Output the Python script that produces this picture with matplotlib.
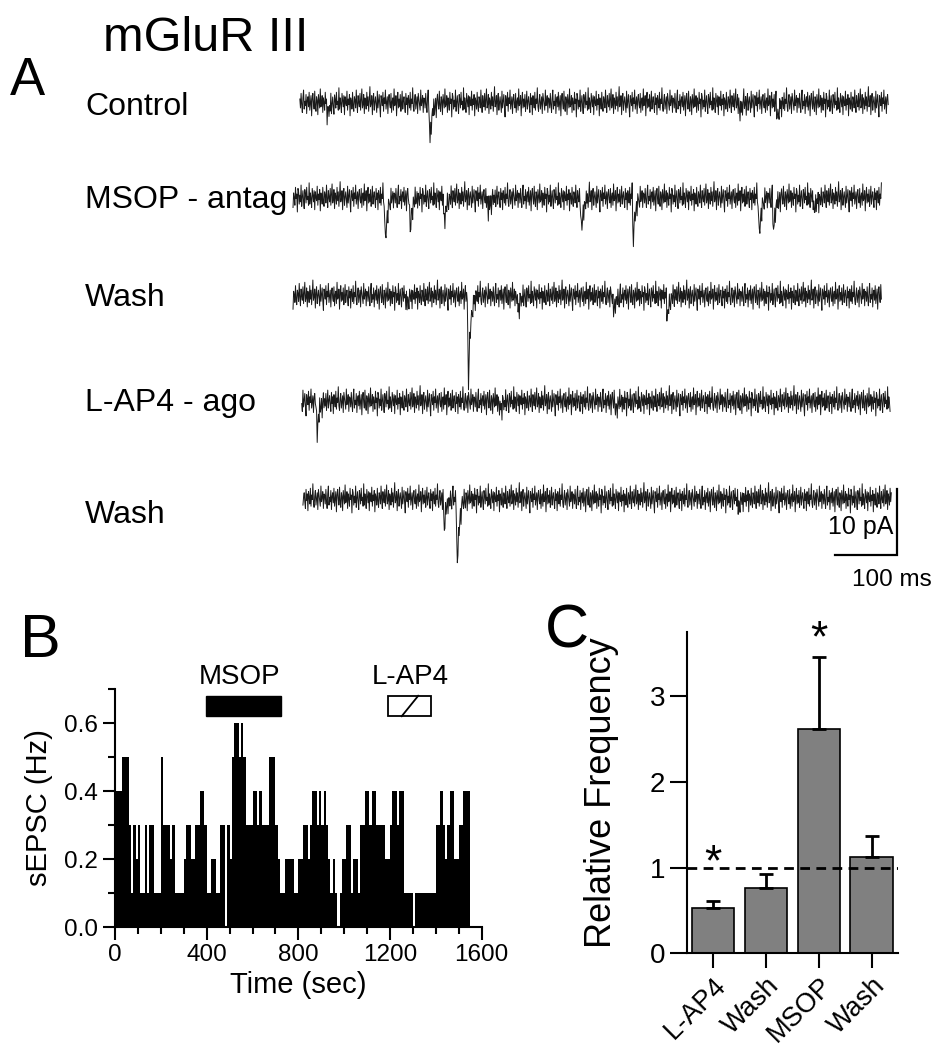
import numpy as np
import matplotlib.pyplot as plt
from matplotlib.patches import Rectangle
from matplotlib.ticker import MultipleLocator

plt.rcParams['font.family'] = ['Liberation Sans', 'DejaVu Sans']

# ---- Panel A: sEPSC traces ----
trace_names = ['Control', 'MSOP - antag', 'Wash', 'L-AP4 - ago', 'Wash']
# events: (time from trace start in ms, amplitude in pA)
control_events = [(43, 2.0), (208, 5.6), (708, 1.8), (768, 2.5)]
msop_events = [(147, 6.8), (187, 4.7), (242, 3.6), (313, 2.4), (463, 5.5),
               (547, 6.1), (750, 5.9), (773, 5.0), (839, 2.3)]
wash1_events = [(181, 1.5), (281, 12.9), (361, 2.3), (515, 2.7), (602, 3.0)]
lap4_events = [(23, 4.7), (318, 1.5), (505, 1.2)]
wash2_events = [(226, 4.5), (247, 10.6), (700, 1.4)]
trace_events = [control_events, msop_events, wash1_events, lap4_events, wash2_events]

# baseline noise samples (0.1 pA units)
noise = [3, -5, 8, -2, -9, 4, 11, -6, 1, -3, 7, -10, 2, 5, -4, 9, -7, 0, 6, -12,
         3, 8, -1, -6, 10, -3, -8, 5, 2, -11, 7, 1, -5, 12, -4, -2, 6, -9, 4, 0,
         -7, 9, -1, 3, -13, 8, 5, -6, 2, -4, 11, -8, 0, 6, -3, -10, 7, 3, -5, 9,
         -2, 1, -7, 13, -6, 4, -1, -9, 8, 2, -4, 6, -11, 5, 0, -3, 10, -7, 3, -2,
         7, -12, 4, 1, -6, 9, -3, -8, 5, 2, -5, 11, -1, -9, 6, 0, -4, 8, -7, 3,
         12, -5, -2, 7, -10, 4, 1, -6, 9, -3, 5, -8, 2, 14, -4, -1, 6, -11, 3, 8,
         -7, 0, 5, -2, -9, 10, -5, 1, 7, -4, -13, 6, 2, -3, 9, -8, 4, -1, 11, -6,
         0, 5, -10, 3, 7, -2, -5, 8, -9, 1, 4, -7, 12, -3, -1, 6, -12, 2, 9, -5,
         3, -4, 7, -8, 0, 10, -6, 1, 5, -3, -9, 8, -2, 4, -11, 6, 1, -5, 9, -7,
         3, -1, 13, -4, -8, 2, 7, -6, 0, 5, -10, 8, 3, -2, -7, 11, -3, 1, 6, -9, 4]
# sEPSC waveform, 1 ms steps, normalised
epsc_shape = [0, -0.6, -1.0, -0.75, -0.56, -0.42, -0.32, -0.24, -0.18, -0.13,
              -0.1, -0.07, -0.05, -0.03, -0.02, -0.01]

# ---- Panel B: sEPSC frequency over time (events per 10 s bin) ----
bin_width = 10
counts = [4, 4, 4, 5, 5, 5, 3, 1, 3, 2,
          3, 1, 1, 3, 1, 3, 3, 1, 1, 1,
          5, 3, 3, 3, 2, 3, 1, 1, 1, 1,
          2, 3, 3, 2, 2, 3, 3, 4, 4, 3,
          1, 1, 2, 2, 1, 1, 3, 3, 0, 3,
          2, 5, 6, 6, 5, 6, 5, 3, 3, 3,
          4, 4, 3, 4, 3, 3, 3, 5, 5, 5,
          3, 2, 1, 1, 2, 2, 2, 2, 1, 1,
          2, 2, 3, 3, 2, 3, 4, 4, 3, 4,
          3, 4, 3, 2, 1, 2, 1, 0, 1, 2,
          2, 3, 3, 1, 2, 2, 1, 3, 3, 4,
          4, 3, 4, 4, 3, 3, 3, 3, 2, 2,
          3, 4, 4, 3, 4, 4, 1, 1, 1, 1,
          0, 1, 1, 1, 1, 1, 1, 1, 1, 1,
          3, 3, 4, 3, 2, 3, 4, 4, 2, 2,
          3, 3, 4, 4, 4]
msop_period = (395, 725)
lap4_period = (1190, 1379)

# ---- Panel C: relative frequency ----
conditions = ['L-AP4', 'Wash', 'MSOP', 'Wash']
rel_freq = [0.53, 0.76, 2.61, 1.12]
rel_sem = [0.08, 0.16, 0.84, 0.25]
significant = [True, False, True, False]

W, H = 940, 1050
fig = plt.figure(figsize=(W / 100, H / 100), dpi=100)


def px_axes(left, top, right, bottom):
    return fig.add_axes([left / W, 1 - bottom / H, (right - left) / W, (bottom - top) / H])


# ---------- A ----------
axA = px_axes(280, 60, 940, 600)
ms_px, pa_px = 0.62, 6.6
axA.set_xlim(0, 660 / ms_px)
axA.set_ylim(0, 540 / pa_px)
axA.axis('off')

starts = [32, 21, 21, 35, 37]
baselines = [75.4, 61.0, 46.1, 30.1, 15.4]
offsets = [0, 37, 81, 123, 166]
label_y = [107, 200, 298, 403, 515]
n = 950
for name, events, t0, base, off, ly in zip(trace_names, trace_events, starts,
                                           baselines, offsets, label_y):
    y = base + 0.17 * np.resize(np.roll(noise, -off), n).astype(float)
    for et, amp in events:
        k = min(len(epsc_shape), n - et)
        y[et:et + k] += amp * np.array(epsc_shape[:k])
    axA.plot(t0 + np.arange(n), y, color='#1a1a1a', lw=0.7)
    fig.text(85 / W, 1 - ly / H, name, fontsize=23, va='center')

# scale bars
sb_x, sb_y = (897 - 280) / ms_px, (600 - 555) / pa_px
axA.plot([sb_x - 100, sb_x, sb_x], [sb_y, sb_y, sb_y + 10], color='black', lw=1.6,
         solid_joinstyle='miter')
axA.text(sb_x - 6, sb_y + 4.3, '10 pA', fontsize=18, ha='right', va='center')
axA.text(sb_x - 8, sb_y - 3.8, '100 ms', fontsize=17.5, ha='center', va='center')

fig.text(103 / W, 1 - 51 / H, 'mGluR III', fontsize=35, va='baseline')
fig.text(10 / W, 1 - 95 / H, 'A', fontsize=38, va='baseline')

# ---------- B ----------
axB = px_axes(115, 689, 481.7, 927)
freq = np.array(counts) / bin_width
axB.bar(np.arange(len(counts)) * bin_width, freq, width=bin_width, align='edge',
        color='black', linewidth=0)
axB.set_xlim(0, 1600)
axB.set_ylim(0, 0.7)
axB.xaxis.set_major_locator(MultipleLocator(400))
axB.xaxis.set_minor_locator(MultipleLocator(100))
axB.yaxis.set_major_locator(MultipleLocator(0.2))
axB.yaxis.set_minor_locator(MultipleLocator(0.1))
axB.yaxis.set_major_formatter(lambda v, p: f'{v:.1f}')
for s in ['top', 'right']:
    axB.spines[s].set_visible(False)
for s in ['left', 'bottom']:
    axB.spines[s].set_linewidth(1.5)
axB.tick_params(which='major', direction='out', length=9, width=1.5, labelsize=17.5)
axB.tick_params(which='minor', direction='out', length=5, width=1.5)
axB.set_xlabel('Time (sec)', fontsize=21, labelpad=3)
axB.set_ylabel('sEPSC (Hz)', fontsize=21, labelpad=8)

axB.add_patch(Rectangle((msop_period[0], 0.62), msop_period[1] - msop_period[0], 0.06,
                        facecolor='black', edgecolor='black', clip_on=False))
axB.add_patch(Rectangle((lap4_period[0], 0.62), lap4_period[1] - lap4_period[0], 0.06,
                        facecolor='white', edgecolor='black', lw=1.3, clip_on=False))
axB.plot([1251, 1323], [0.62, 0.68], color='black', lw=1.3, clip_on=False)
axB.text(545, 0.698, 'MSOP', fontsize=20, ha='center', va='bottom')
axB.text(1287, 0.698, 'L-AP4', fontsize=20, ha='center', va='bottom')
fig.text(20 / W, 1 - 657 / H, 'B', fontsize=44, va='baseline')

# ---------- C ----------
axC = px_axes(686.7, 631.7, 898, 953.3)
xpos = np.arange(len(conditions))
axC.bar(xpos, rel_freq, width=0.8, color='#808080', edgecolor='black', linewidth=1.2,
        yerr=[np.zeros(len(rel_sem)), rel_sem], capsize=5,
        error_kw=dict(elinewidth=2, capthick=2, ecolor='black'), zorder=2)
axC.axhline(1, color='black', lw=2, linestyle=(0, (3.5, 2.3)), zorder=3)
axC.set_xlim(-0.5, 3.5)
axC.set_ylim(0, 3.75)
axC.set_yticks([0, 1, 2, 3])
axC.set_xticks(xpos)
axC.set_xticklabels(conditions, rotation=45, ha='right', rotation_mode='anchor',
                    fontsize=19.5)
for s in ['top', 'right']:
    axC.spines[s].set_visible(False)
for s in ['left', 'bottom']:
    axC.spines[s].set_linewidth(1.5)
axC.tick_params(axis='y', direction='out', length=12, width=1.5, labelsize=20)
axC.tick_params(axis='x', direction='out', length=11, width=1.5, pad=3)
axC.set_ylabel('Relative Frequency', fontsize=26, labelpad=22)
star_y = [0.8, 3.42]
for x, sy in zip(xpos[np.array(significant)], star_y):
    axC.text(x, sy, '*', fontsize=32, ha='center', va='bottom', clip_on=False)
fig.text(545 / W, 1 - 647 / H, 'C', fontsize=44, va='baseline')

fig.savefig('out.png', dpi=100)
